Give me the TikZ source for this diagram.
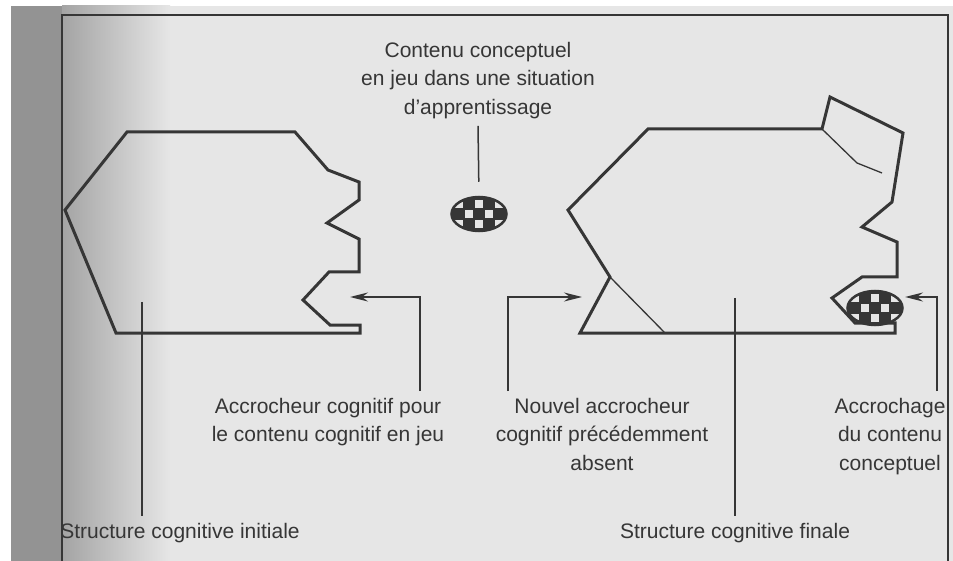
\documentclass[tikz,border=0pt]{standalone}
\usepackage{fontspec}
\setmainfont{Liberation Sans}
\usetikzlibrary{arrows.meta,shapes.geometric}

\definecolor{ink}{HTML}{363636}
\definecolor{paper}{HTML}{E6E6E6}
\definecolor{gutter}{HTML}{939393}

\tikzset{
  outline/.style={ink, line width=3pt, line join=miter},
  fineline/.style={ink, line width=1.3pt},
  leader/.style={ink, line width=1.5pt},
  pointer/.style={leader, -{Stealth[length=18pt,width=9pt,inset=6pt]}},
  caption/.style={text=ink, font=\fontsize{21}{28.5}\selectfont, align=center, inner sep=7pt},
  token/.style={ellipse, draw=ink, line width=2.5pt, fill=ink,
    minimum width=55pt, minimum height=34pt, inner sep=0pt,
    path picture={
      \foreach \i/\j in {0/-1,-1/0,1/0,0/1,-2/-1,2/-1,-2/1,2/1}
        \fill[paper] ([shift={(\i*10-4,\j*10-4)}]path picture bounding box.center)
          rectangle ([shift={(\i*10+4,\j*10+4)}]path picture bounding box.center);
    }}
}

\begin{document}
\begin{tikzpicture}[x=1pt,y=-1pt]
  \useasboundingbox (0,0) rectangle (953,561);

  % Page and gutter
  \fill[white] (0,0) rectangle (953,561);
  \fill[gutter] (11,6) rectangle (62,561);
  \shade[left color=gutter!80!paper, right color=paper] (62,6) rectangle (170,561);
  \fill[paper] (170,6) rectangle (953,561);
  \draw[ink, line width=1.2pt] (62,561) -- (62,15) -- (948,15) -- (948,561);

  % Drawing initial structure
  \draw[outline] (127,132) -- (295,132) -- (328,170) -- (359,182) -- (359,200)
    -- (327,223) -- (359,239) -- (359,272) -- (329,272) -- (303,300) -- (330,325)
    -- (360,325) -- (360,333) -- (116,333) -- (65,210) -- cycle;

  % Drawing final structure
  \draw[outline] (648,129) -- (822,129) -- (830,97) -- (903,133) -- (892,202)
    -- (862,227) -- (897,242) -- (897,277) -- (862,277) -- (832,298) -- (855,323)
    -- (895,323) -- (895,333) -- (580,333) -- (610,277) -- (568,210) -- cycle;
  \draw[fineline] (610,277) -- (665,333);
  \draw[fineline] (822,129) -- (857,163) -- (882,173);

  % Conceptual content
  \node[caption, anchor=north] (contenu) at (478,35)
    {Contenu conceptuel\\en jeu dans une situation\\d’apprentissage};
  \node[token] (cpt) at (479,214) {};
  \node[token] (cptR) at (875,308) {};
  \draw[leader, shorten >=14pt] (contenu.south) -- (cpt.north);

  % Labels below
  \node[caption, anchor=north] (accA) at (328,391)
    {Accrocheur cognitif pour\\le contenu cognitif en jeu};
  \node[caption, anchor=north] (accB) at (602,391)
    {Nouvel accrocheur\\cognitif précédemment\\absent};
  \node[caption, anchor=north] (accC) at (890,391)
    {Accrochage\\du contenu\\conceptuel};
  \node[caption, anchor=north] (initS) at (180,516) {Structure cognitive initiale};
  \node[caption, anchor=north] (finS) at (735,516) {Structure cognitive finale};

  % Hooks and leaders
  \coordinate (hookA) at (350,297);
  \coordinate (hookB) at (582,297);
  \coordinate (hookC) at (905,297);
  \coordinate (inL) at (142,302);
  \coordinate (inR) at (735,298);
  \draw[pointer] ([xshift=92pt]accA.north) |- (hookA);
  \draw[pointer] ([xshift=-94pt]accB.north) |- (hookB);
  \draw[pointer] ([xshift=47pt]accC.north) |- (hookC);
  \draw[leader] (inL) -- (inL |- initS.north);
  \draw[leader] (inR) -- (inR |- finS.north);
\end{tikzpicture}
\end{document}
